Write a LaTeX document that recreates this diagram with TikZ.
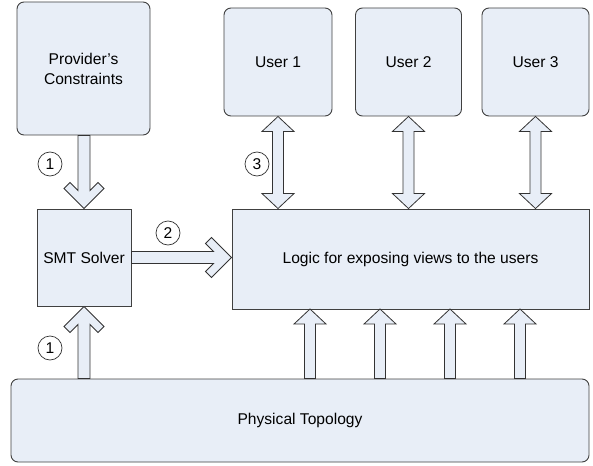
\documentclass[tikz,border=0pt]{standalone}
\usepackage{fontspec}
\setmainfont{Liberation Sans}
\usetikzlibrary{calc}

\definecolor{boxfill}{RGB}{232,238,247}
\definecolor{boxline}{RGB}{64,64,64}

\tikzset{
  box/.style={draw=boxline, fill=boxfill, line width=0.9pt, inner sep=0pt,
    font=\fontsize{15.6}{20}\selectfont, align=center},
  roundbox/.style={box, rounded corners=7pt},
  blockarrow/.style={draw=black!80, fill=boxfill, line width=0.8pt, line join=miter},
  stepnum/.style={circle, draw=black!80, line width=0.7pt, minimum size=24pt,
    inner sep=0pt, font=\fontsize{15.6}{18}\selectfont}
}

\begin{document}
\begin{tikzpicture}[x=1pt, y=1pt]
  \useasboundingbox (0,0) rectangle (593,-465);
  % boxes
  \node[roundbox, minimum width=133pt, minimum height=133pt] (prov) at (83.5,-68.5) {Provider’s\\Constraints};
  \node[roundbox, minimum width=108pt, minimum height=108pt] (user1) at (278,-62) {User 1};
  \node[roundbox, minimum width=106pt, minimum height=108pt] (user2) at (408.5,-62) {User 2};
  \node[roundbox, minimum width=107pt, minimum height=108pt] (user3) at (535.5,-62) {User 3};
  \node[box, minimum width=94pt, minimum height=97pt] (smt) at (84,-257.5) {SMT Solver};
  \node[box, minimum width=357pt, minimum height=100pt] (logic) at (410.5,-259) {Logic for exposing views to the users};
  \node[roundbox, minimum width=578pt, minimum height=83pt] (phys) at (300,-420.5) {Physical Topology};
  % anchors of the lower arrows
  \coordinate (up1) at (310,-309);
  \coordinate (up2) at (380,-309);
  \coordinate (up3) at (450,-309);
  \coordinate (up4) at (520,-309);
  % step 1: constraints into the solver
  \draw[blockarrow] let \p1=(prov.south), \p2=(smt.north) in
    (\p2) -- ++(20,20) -- ++(-6,6) -- (\x2+6pt,\y2+18pt) -- (\x2+6pt,\y1)
    -- (\x2-6pt,\y1) -- (\x2-6pt,\y2+18pt) -- ++(-8,8) -- ++(-6,-6) -- cycle;
  \draw[blockarrow] let \p1=(smt.south), \p2=(phys.north) in
    (\p1) -- ++(20,-20) -- ++(-6,-6) -- (\x1+6pt,\y1-18pt) -- (\x1+6pt,\y2)
    -- (\x1-6pt,\y2) -- (\x1-6pt,\y1-18pt) -- ++(-8,-8) -- ++(-6,6) -- cycle;
  % step 2: solver to logic
  \draw[blockarrow] let \p1=(smt.east), \p2=(logic.west) in
    (\x2,\y1) -- ++(-20,20) -- ++(-6,-6) -- (\x2-18pt,\y1+6pt) -- (\x1,\y1+6pt)
    -- (\x1,\y1-6pt) -- (\x2-18pt,\y1-6pt) -- ++(-8,-8) -- ++(6,-6) -- cycle;
  % step 3: users and logic
  \draw[blockarrow] let \p1=(user1.south), \p2=(logic.north) in
    (\p1) -- ++(16,-15) -- ++(-10.5,0) -- (\x1+5.5pt,\y2+15pt) -- ++(10.5,0) -- (\x1,\y2)
    -- ++(-16,15) -- ++(10.5,0) -- (\x1-5.5pt,\y1-15pt) -- ++(-10.5,0) -- cycle;
  \draw[blockarrow] let \p1=(user2.south), \p2=(logic.north) in
    (\p1) -- ++(16,-15) -- ++(-10.5,0) -- (\x1+5.5pt,\y2+15pt) -- ++(10.5,0) -- (\x1,\y2)
    -- ++(-16,15) -- ++(10.5,0) -- (\x1-5.5pt,\y1-15pt) -- ++(-10.5,0) -- cycle;
  \draw[blockarrow] let \p1=(user3.south), \p2=(logic.north) in
    (\p1) -- ++(16,-15) -- ++(-10.5,0) -- (\x1+5.5pt,\y2+15pt) -- ++(10.5,0) -- (\x1,\y2)
    -- ++(-16,15) -- ++(10.5,0) -- (\x1-5.5pt,\y1-15pt) -- ++(-10.5,0) -- cycle;
  % topology feeding the logic
  \draw[blockarrow] let \p1=(up1), \p2=(phys.north) in
    (\p1) -- ++(16,-15) -- ++(-10.5,0) -- (\x1+5.5pt,\y2) -- (\x1-5.5pt,\y2) -- (\x1-5.5pt,\y1-15pt) -- ++(-10.5,0) -- cycle;
  \draw[blockarrow] let \p1=(up2), \p2=(phys.north) in
    (\p1) -- ++(16,-15) -- ++(-10.5,0) -- (\x1+5.5pt,\y2) -- (\x1-5.5pt,\y2) -- (\x1-5.5pt,\y1-15pt) -- ++(-10.5,0) -- cycle;
  \draw[blockarrow] let \p1=(up3), \p2=(phys.north) in
    (\p1) -- ++(16,-15) -- ++(-10.5,0) -- (\x1+5.5pt,\y2) -- (\x1-5.5pt,\y2) -- (\x1-5.5pt,\y1-15pt) -- ++(-10.5,0) -- cycle;
  \draw[blockarrow] let \p1=(up4), \p2=(phys.north) in
    (\p1) -- ++(16,-15) -- ++(-10.5,0) -- (\x1+5.5pt,\y2) -- (\x1-5.5pt,\y2) -- (\x1-5.5pt,\y1-15pt) -- ++(-10.5,0) -- cycle;
  % step numbers
  \node[stepnum] (num1a) at (50,-164) {1};
  \node[stepnum] (num1b) at (50,-348) {1};
  \node[stepnum] (num2) at (168,-233) {2};
  \node[stepnum] (num3) at (257,-164) {3};
\end{tikzpicture}
\end{document}
